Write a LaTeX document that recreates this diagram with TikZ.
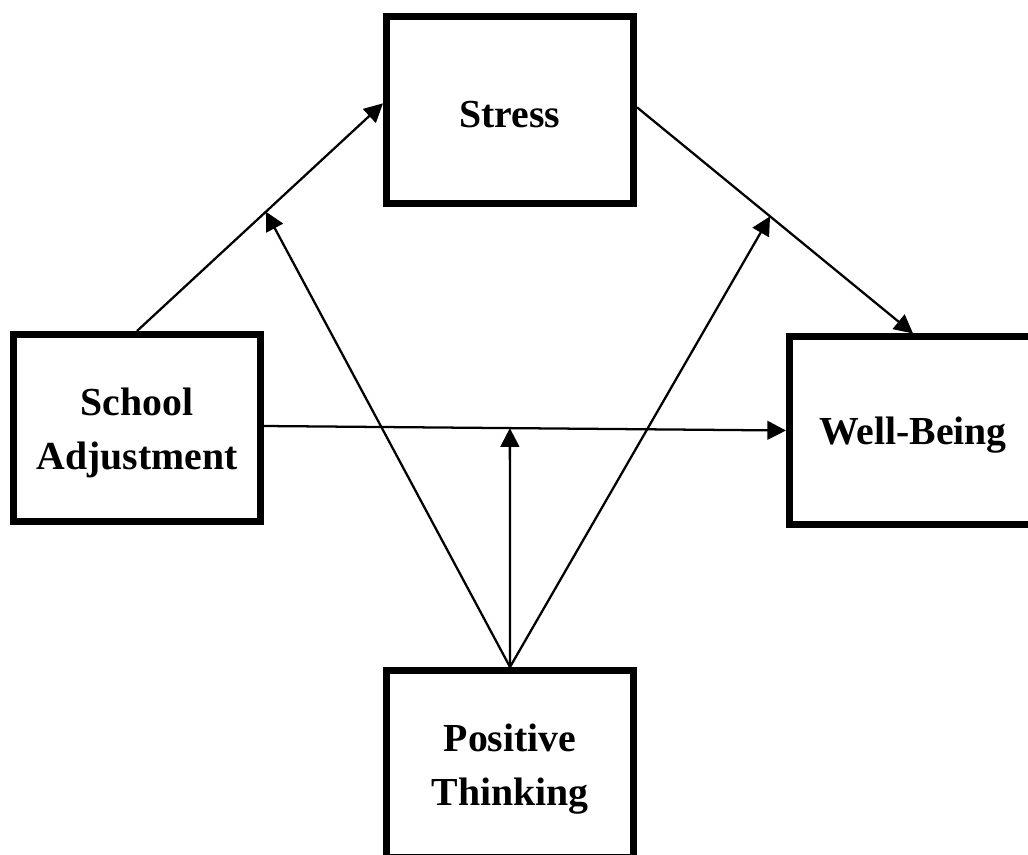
\documentclass[tikz,border=0pt]{standalone}
\usepackage{fontspec}
\setmainfont{Liberation Serif}
\usetikzlibrary{arrows.meta,calc}
\newcommand\lowertext[1]{\raisebox{-3.75pt}[\height][\depth]{#1}}
\begin{document}
\begin{tikzpicture}[x=0.75pt,y=-0.75pt,
  box/.style={draw, line width=5.25pt, minimum width=185.25pt, minimum height=140.25pt,
    inner sep=0pt, align=center, font=\fontsize{29.8}{40.5}\selectfont\bfseries},
  conn/.style={line width=1.7pt, -{Triangle[length=14pt,width=14pt]}}]
\useasboundingbox (0,0) rectangle (1028,855);
\node[box] (st) at (510,110) {\lowertext{Stress}};
\node[box] (sa) at (137,428) {\lowertext{School}\\\lowertext{Adjustment}};
\node[box] (wb) at (913,430.5) {\lowertext{Well-Being}};
\node[box] (pt) at (510,764) {\lowertext{Positive}\\\lowertext{Thinking}};
\coordinate (stw) at ([yshift=5pt]st.west);
\coordinate (ste) at ([yshift=2pt]st.east);
\coordinate (sae) at ([yshift=1.5pt]sa.east);
\coordinate (m1) at ($(sa.north)!0.524!(stw)$);
\coordinate (m2) at ($(ste)!0.482!(wb.north)$);
\coordinate (m3) at ($(sae)!0.471!(wb.west)$);
\draw[conn] (sa.north) -- (stw);
\draw[conn] (ste) -- (wb.north);
\draw[conn] (sae) -- (wb.west);
\draw[conn] (pt.north) -- (m1);
\draw[conn] (pt.north) -- (m2);
\draw[conn] (pt.north) -- (m3);
\end{tikzpicture}
\end{document}
